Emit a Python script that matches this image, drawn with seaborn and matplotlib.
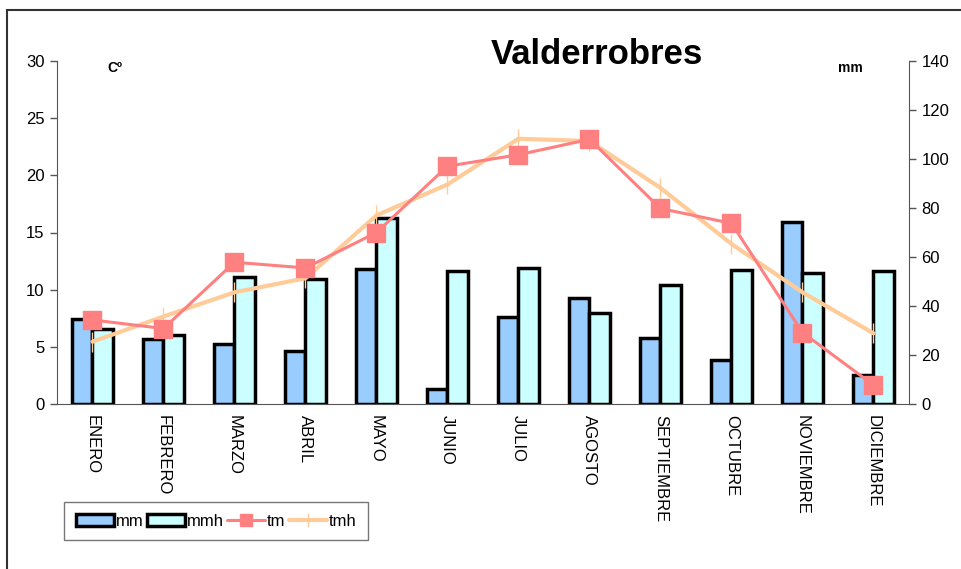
import numpy as np
import pandas as pd
import matplotlib
matplotlib.use('Agg')
import matplotlib.pyplot as plt
import seaborn as sns
from matplotlib.patches import Rectangle, Patch
from matplotlib.lines import Line2D

meses = ['ENERO', 'FEBRERO', 'MARZO', 'ABRIL', 'MAYO', 'JUNIO', 'JULIO',
         'AGOSTO', 'SEPTIEMBRE', 'OCTUBRE', 'NOVIEMBRE', 'DICIEMBRE']
mm = [34.7, 26.4, 24.5, 21.6, 55.1, 6.1, 35.6, 43.1, 26.8, 18.0, 74.4, 11.8]
mmh = [30.5, 28.3, 51.7, 50.9, 76.1, 54.4, 55.4, 37.0, 48.6, 54.7, 53.3, 54.3]
tm = [7.35, 6.6, 12.4, 11.9, 15.0, 20.8, 21.8, 23.15, 17.1, 15.8, 6.25, 1.66]
tmh = [5.45, 7.65, 9.77, 11.0, 16.5, 19.2, 23.2, 23.0, 18.9, 14.0, 9.77, 6.18]

sns.set_style('white')
plt.rcParams['font.family'] = ['Liberation Sans', 'DejaVu Sans']
plt.rcParams['text.color'] = 'black'
plt.rcParams['xtick.labelcolor'] = 'black'
plt.rcParams['ytick.labelcolor'] = 'black'

fig = plt.figure(figsize=(9.62, 5.69), dpi=100)
ax1 = fig.add_axes([57/962, 1-404/569, 852/962, 343/569])
ax2 = ax1.twinx()

# bars on the mm axis
bars = pd.DataFrame({'mes': meses * 2, 'valor': mm + mmh,
                     'serie': ['mm'] * 12 + ['mmh'] * 12})
sns.barplot(data=bars, x='mes', y='valor', hue='serie', ax=ax2,
            palette={'mm': '#99CCFF', 'mmh': '#CCFFFF'}, width=0.58,
            edgecolor='black', linewidth=2.5, saturation=1, legend=False)

# temperature lines on left axis, drawn above the bars
ax1.set_zorder(ax2.get_zorder() + 1)
ax1.patch.set_visible(False)
x = np.arange(len(meses))
ax1.plot(x, tmh, color='#FFCC99', lw=3, marker='|', ms=14, mew=1, label='tmh', zorder=3)
ax1.plot(x, tm, color='#FF8080', lw=2.2, marker='s', ms=13.5, label='tm', zorder=4)

ax1.set_xlim(-0.5, 11.5)
ax2.set_xlim(-0.5, 11.5)
ax1.set_ylim(0, 30)
ax2.set_ylim(0, 140)
ax1.set_yticks(range(0, 31, 5))
ax2.set_yticks(range(0, 141, 20))
ax1.set_xticks(np.arange(-0.5, 12, 1), minor=False)
ax1.set_xticklabels([])
ax1.set_xticks(x, minor=True)
ax1.set_xticklabels(meses, minor=True, rotation=270, fontsize=12)
ax1.tick_params(axis='x', which='minor', length=0, pad=8)
ax1.tick_params(axis='x', which='major', length=5, direction='out', color='#555555', width=1)
ax2.set_xlabel('')
ax2.set_ylabel('')
ax1.set_xlabel('')
ax2.set_xticks([])

for a in (ax1, ax2):
    a.spines['top'].set_visible(False)
    a.tick_params(axis='y', labelsize=12, length=5, direction='out', color='#555555',
                  width=1, pad=4, left=False, right=False, labelcolor='black')
ax1.spines['right'].set_visible(False)
ax2.spines['left'].set_visible(False)
ax1.spines['left'].set_color('#555555')
ax2.spines['right'].set_color('#555555')
ax1.spines['bottom'].set_color('#555555')
ax2.spines['bottom'].set_visible(False)
ax1.tick_params(axis='y', left=True)
ax2.tick_params(axis='y', right=True)

fig.text(597/962, 1-55/569, 'Valderrobres', fontsize=25, fontweight='bold', ha='center', va='center')
fig.text(115/962, 1-68/569, 'Cº', fontsize=10, fontweight='bold', ha='center', va='center')
fig.text(850/962, 1-68/569, 'mm', fontsize=10, fontweight='bold', ha='center', va='center')

# legend
handles = [Patch(facecolor='#99CCFF', edgecolor='black', linewidth=2.5),
           Patch(facecolor='#CCFFFF', edgecolor='black', linewidth=2.5),
           Line2D([], [], color='#FF8080', lw=2.2, marker='s', ms=9),
           Line2D([], [], color='#FFCC99', lw=3, marker='|', ms=10, mew=1)]
leg = fig.legend(handles, ['mm', 'mmh', 'tm', 'tmh'], ncol=4, loc='center',
                 bbox_to_anchor=(216/962, 1-521/569), frameon=True, fancybox=False,
                 edgecolor='#555555', fontsize=12, handlelength=2.3, handletextpad=0.1,
                 columnspacing=0.2, borderpad=0.7)
leg.get_frame().set_linewidth(1)

# outer chart border
fig.patches.append(Rectangle((7/962, -0.1), 1.2, 1.1 - 10/569, transform=fig.transFigure,
                             fill=False, edgecolor='#333333', lw=1.5))

fig.savefig('out.png', dpi=100)
